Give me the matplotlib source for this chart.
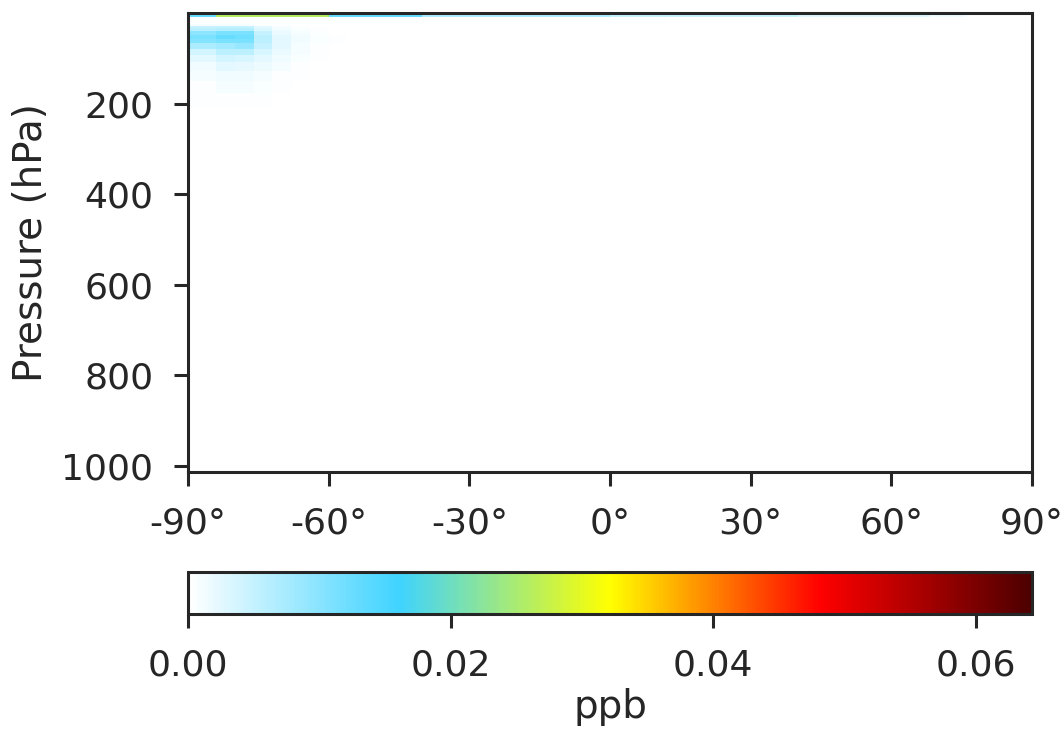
# 대기 농도 위도-기압 단면 그리기

import numpy as np
import matplotlib.pyplot as plt
from matplotlib.colors import LinearSegmentedColormap

# 위도 격자 (4x5 격자, 극 지역은 반칸)
lat_edges = [-90, -88] + list(range(-84, 85, 4)) + [88, 90]

# 기압 경계 (hPa), 위에서 아래로
p_edges = [0.01, 0.04, 0.07, 0.10, 0.15, 0.22, 0.31, 0.42, 0.57, 0.76, 1.00, 1.29,
           1.65, 2.05, 2.60, 3.27, 4.08, 5.05, 6.22, 7.62, 9.29, 11.28, 13.64,
           16.46, 19.79, 23.73, 28.37, 33.81, 40.18, 47.64, 56.39, 66.60, 78.51,
           92.37, 108.66, 127.84, 150.39, 176.93, 208.15, 244.88, 288.08, 338.5,
           376.33, 414.57, 452.83, 491.09, 529.36, 567.63, 605.92, 644.22, 682.54,
           707.92, 733.31, 758.71, 784.13, 809.54, 829.88, 845.18, 860.47, 875.77,
           891.05, 906.34, 921.62, 936.91, 952.19, 967.48, 982.76, 998.05, 1013.25]

# 최상층 (p < 9.3 hPa) 위도별 값 (ppb), 위도 -89 ~ 89
top_band = [0.013, 0.013, 0.026, 0.026, 0.026, 0.026, 0.026, 0.026, 0.013, 0.013,
            0.013, 0.013, 0.013, 0.007, 0.007, 0.007, 0.007, 0.007, 0.007, 0.007,
            0.007, 0.007, 0.007, 0.005, 0.005, 0.005, 0.005, 0.005, 0.005, 0.005,
            0.005, 0.005, 0.005, 0.003, 0.003, 0.003, 0.003, 0.003, 0.003, 0.003,
            0.0015, 0.0015, 0.0, 0.0, 0.0, 0.0]

# 9~24 hPa 옅은 띠
faint_band = [0.0004, 0.0004, 0.0004, 0.0004, 0.0004, 0.0004, 0.0004, 0.0004, 0.0005, 0.0005,
              0.0005, 0.0005, 0.0005, 0.0005, 0.0005, 0.0005, 0.0005, 0.0005, 0.0004, 0.0004,
              0.0004, 0.0004, 0.0004, 0.0003, 0.0003, 0.0003, 0.0002, 0.0, 0.0, 0.0,
              0.0, 0.0, 0.0, 0.0, 0.0, 0.0, 0.0, 0.0, 0.0, 0.0,
              0.0, 0.0, 0.0, 0.0, 0.0, 0.0]

# 남극 하부 성층권 덩어리 (위도 -89 ~ -54)
blob_p = [25, 31, 37, 44, 52, 61, 72, 85, 100, 118, 139, 164, 193, 226]
blob = [
    [0.0008, 0.0008, 0.0008, 0.0008, 0.0005, 0.0003, 0.0002, 0, 0, 0],
    [0.0048, 0.0048, 0.0048, 0.0048, 0.0024, 0.0010, 0.0005, 0.0002, 0, 0],
    [0.0056, 0.0056, 0.0064, 0.0064, 0.0032, 0.0013, 0.0006, 0.0003, 0.0002, 0],
    [0.0096, 0.0096, 0.0112, 0.0112, 0.0048, 0.0019, 0.0010, 0.0005, 0.0002, 0],
    [0.0112, 0.0112, 0.0128, 0.0120, 0.0056, 0.0024, 0.0013, 0.0006, 0.0003, 0.0002],
    [0.0104, 0.0104, 0.0112, 0.0112, 0.0056, 0.0024, 0.0013, 0.0006, 0.0003, 0.0002],
    [0.0072, 0.0072, 0.0080, 0.0088, 0.0048, 0.0024, 0.0010, 0.0005, 0.0002, 0],
    [0.0040, 0.0040, 0.0056, 0.0056, 0.0035, 0.0019, 0.0008, 0.0003, 0.0002, 0],
    [0.0024, 0.0024, 0.0040, 0.0035, 0.0024, 0.0013, 0.0006, 0.0003, 0, 0],
    [0.0013, 0.0013, 0.0024, 0.0021, 0.0016, 0.0008, 0.0005, 0.0002, 0, 0],
    [0.0008, 0.0008, 0.0013, 0.0013, 0.0008, 0.0005, 0.0003, 0, 0, 0],
    [0.0005, 0.0005, 0.0008, 0.0008, 0.0006, 0.0003, 0.0002, 0, 0, 0],
    [0.0003, 0.0003, 0.0005, 0.0005, 0.0003, 0.0002, 0, 0, 0, 0],
    [0.0002, 0.0002, 0.0002, 0.0002, 0.0002, 0, 0, 0, 0, 0],
]

vmax = 0.0643
cbar_ticks = [0.0, 0.02, 0.04, 0.06]
lat_ticks = [-90, -60, -30, 0, 30, 60, 90]
p_ticks = [200, 400, 600, 800, 1000]

# 격자 데이터 만들기
p_edges = np.array(p_edges)
p_mid = (p_edges[:-1] + p_edges[1:]) / 2
data = np.zeros((len(p_mid), len(lat_edges) - 1))
data[p_mid < 9.29, :] = top_band
data[(p_mid > 9.29) & (p_mid < 23.73), :] = faint_band
for p, row in zip(blob_p, blob):
    k = np.searchsorted(p_edges, p) - 1
    data[k, :len(row)] = row

cmap = LinearSegmentedColormap.from_list(
    "wbyr", [(0.0, "#ffffff"), (0.25, "#3fd3ff"), (0.5, "#ffff00"),
             (0.75, "#ff0000"), (1.0, "#4d0000")])

ink = "#262626"
fs_label = 28
fs_tick = 26
plt.rcParams["text.color"] = ink
plt.rcParams["axes.labelcolor"] = ink
plt.rcParams["xtick.color"] = ink
plt.rcParams["ytick.color"] = ink
plt.rcParams["axes.edgecolor"] = ink
plt.rcParams["axes.linewidth"] = 2.2

fig = plt.figure(figsize=(10.63, 7.41), dpi=100)
ax = fig.add_axes([0.1769, 0.3630, 0.7939, 0.6194])
cax = fig.add_axes([0.1769, 0.1714, 0.7939, 0.0567])

mesh = ax.pcolormesh(lat_edges, p_edges, data, cmap=cmap, vmin=0, vmax=vmax)
ax.set_xlim(-90, 90)
ax.set_ylim(1013.25, 0.01)
ax.set_xticks(lat_ticks)
ax.set_xticklabels([f"{t}°" for t in lat_ticks])
ax.set_yticks(p_ticks)
ax.set_ylabel("Pressure (hPa)", fontsize=fs_label, labelpad=8)
ax.tick_params(length=10, width=2.2, labelsize=fs_tick, pad=15)

cb = fig.colorbar(mesh, cax=cax, orientation="horizontal", ticks=cbar_ticks)
cb.ax.set_xticklabels([f"{t:.2f}" for t in cbar_ticks])
cb.set_label("ppb", fontsize=fs_label)
cb.ax.tick_params(length=10, width=2.2, labelsize=fs_tick, pad=15)
cb.outline.set_linewidth(2.2)

fig.savefig("out.png", dpi=100)
